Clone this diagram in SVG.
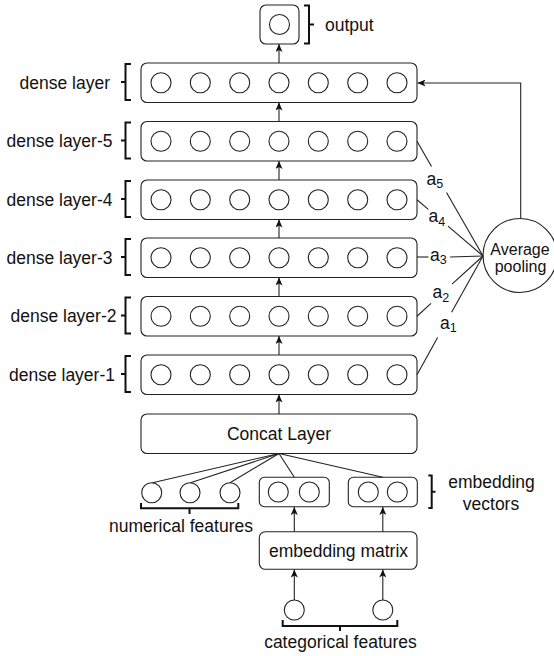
<svg xmlns="http://www.w3.org/2000/svg" width="554" height="656" viewBox="0 0 554 656">
<style>
.box{fill:#fff;stroke:#222;stroke-width:1.1}
.c{fill:#fff;stroke:#222;stroke-width:1.1}
.ln{fill:none;stroke:#222;stroke-width:1.1}
.ar{fill:none;stroke:#222;stroke-width:1.1;marker-end:url(#ah)}
.br{fill:none;stroke:#111;stroke-width:2}
.t{font-family:"Liberation Sans",Arial,sans-serif;font-size:17.5px;fill:#111}
.sub{font-size:12.5px}
</style>
<defs>
<marker id="ah" markerUnits="userSpaceOnUse" markerWidth="8" markerHeight="7" refX="8" refY="3.5" orient="auto">
<path d="M0,0 L8,3.5 L0,7 L2,3.5 z" fill="#111"/>
</marker>
<g id="row">
<rect class="box" x="141" y="0" width="276" height="39.5" rx="6"/>
<circle class="c" cx="161" cy="19.75" r="10"/>
<circle class="c" cx="200.3" cy="19.75" r="10"/>
<circle class="c" cx="239.7" cy="19.75" r="10"/>
<circle class="c" cx="279" cy="19.75" r="10"/>
<circle class="c" cx="318.3" cy="19.75" r="10"/>
<circle class="c" cx="357.7" cy="19.75" r="10"/>
<circle class="c" cx="397" cy="19.75" r="10"/>
</g>
<path id="lbr" d="M131,1 L125.5,1 L125.5,37 L131,37 M125.5,19 L121,19"/>
</defs>

<g id="output">
<rect class="box" x="260" y="5" width="39" height="39" rx="6"/>
<circle class="c" cx="279.5" cy="24.5" r="10"/>
<path class="br" d="M304,5.5 L309,5.5 L309,43.5 L304,43.5 M309,24.5 L314,24.5"/>
<text class="t" x="325" y="30.5">output</text>
</g>

<g id="dense-layer">
<use href="#row" x="0" y="63"/>
<use href="#lbr" class="br" x="0" y="63"/>
<text class="t" x="110" y="88.75" text-anchor="end">dense layer</text>
</g>
<g id="dense-layer-5">
<use href="#row" x="0" y="121.5"/>
<use href="#lbr" class="br" x="0" y="121.5"/>
<text class="t" x="112.5" y="147.25" text-anchor="end">dense layer-5</text>
</g>
<g id="dense-layer-4">
<use href="#row" x="0" y="180"/>
<use href="#lbr" class="br" x="0" y="180"/>
<text class="t" x="112.5" y="205.75" text-anchor="end">dense layer-4</text>
</g>
<g id="dense-layer-3">
<use href="#row" x="0" y="238"/>
<use href="#lbr" class="br" x="0" y="238"/>
<text class="t" x="112.5" y="263.75" text-anchor="end">dense layer-3</text>
</g>
<g id="dense-layer-2">
<use href="#row" x="0" y="296.5"/>
<use href="#lbr" class="br" x="0" y="296.5"/>
<text class="t" x="116.5" y="322.25" text-anchor="end">dense layer-2</text>
</g>
<g id="dense-layer-1">
<use href="#row" x="0" y="355"/>
<use href="#lbr" class="br" x="0" y="355"/>
<text class="t" x="115" y="380.75" text-anchor="end">dense layer-1</text>
</g>

<g id="concat">
<rect class="box" x="141" y="414" width="276" height="39.5" rx="6"/>
<text class="t" x="279" y="440" text-anchor="middle">Concat Layer</text>
</g>

<g id="avg-pooling">
<circle class="c" cx="520" cy="255.5" r="37"/>
<text class="t" x="520" y="255" text-anchor="middle" style="font-size:16px">Average</text>
<text class="t" x="520.5" y="272" text-anchor="middle" style="font-size:16px">pooling</text>
</g>

<g id="numerical">
<circle class="c" cx="151.7" cy="492.7" r="10"/>
<circle class="c" cx="190" cy="492.7" r="10"/>
<circle class="c" cx="230" cy="492.7" r="10"/>
<path class="br" d="M141,503 L141,508.3 L238.3,508.3 L238.3,503 M189.5,508.3 L189.5,514"/>
<text class="t" x="181" y="532" text-anchor="middle">numerical features</text>
</g>

<g id="emb-vec-1">
<rect class="box" x="259.3" y="477.3" width="70" height="29.4" rx="5"/>
<circle class="c" cx="278.3" cy="492" r="10"/>
<circle class="c" cx="309.3" cy="492" r="10"/>
</g>
<g id="emb-vec-2">
<rect class="box" x="348.3" y="477.3" width="69" height="29.4" rx="5"/>
<circle class="c" cx="368.3" cy="492" r="10"/>
<circle class="c" cx="397.3" cy="492" r="10"/>
</g>
<g id="emb-label">
<path class="br" d="M428.3,475.5 L431.7,475.5 L431.7,508 L428.3,508 M431.7,491.7 L435.5,491.7"/>
<text class="t" x="491.5" y="488" text-anchor="middle">embedding</text>
<text class="t" x="491" y="510" text-anchor="middle">vectors</text>
</g>

<g id="emb-matrix">
<rect class="box" x="259.3" y="531.7" width="157.7" height="37.6" rx="6"/>
<text class="t" x="338.5" y="557" text-anchor="middle">embedding matrix</text>
</g>

<g id="categorical">
<circle class="c" cx="294.3" cy="610" r="10"/>
<circle class="c" cx="382.8" cy="610" r="10"/>
<path class="br" d="M282.7,620 L282.7,626 L397.3,626 L397.3,620 M340,626 L340,631"/>
<text class="t" x="340.5" y="648.3" text-anchor="middle">categorical features</text>
</g>

<g id="connectors">
<line class="ar" x1="279" y1="63" x2="279" y2="44"/>
<line class="ar" x1="279" y1="121.5" x2="279" y2="102.5"/>
<line class="ar" x1="279" y1="180" x2="279" y2="161"/>
<line class="ar" x1="279" y1="238" x2="279" y2="219.5"/>
<line class="ar" x1="279" y1="296.5" x2="279" y2="277.5"/>
<line class="ar" x1="279" y1="355" x2="279" y2="336"/>
<line class="ar" x1="279" y1="414" x2="279" y2="394.5"/>
<polyline class="ar" points="520.7,218.5 520.7,83 417.5,83"/>
<line class="ln" x1="417" y1="141.25" x2="431.5" y2="166.5"/>
<line class="ln" x1="446.5" y1="192.5" x2="483" y2="256"/>
<line class="ln" x1="417" y1="199.75" x2="428.3" y2="209.4"/>
<line class="ln" x1="448" y1="226.2" x2="483" y2="256"/>
<line class="ln" x1="417" y1="257" x2="428.5" y2="257"/>
<line class="ln" x1="450" y1="257" x2="483" y2="256"/>
<line class="ln" x1="417" y1="316.25" x2="431" y2="303.4"/>
<line class="ln" x1="452" y1="284.2" x2="483" y2="256"/>
<line class="ln" x1="417" y1="374.75" x2="437.6" y2="337.6"/>
<line class="ln" x1="451.6" y1="312.3" x2="483" y2="256"/>
<line class="ln" x1="279" y1="453.5" x2="152.5" y2="482.7"/>
<line class="ln" x1="279" y1="453.5" x2="190.5" y2="482.7"/>
<line class="ln" x1="279" y1="453.5" x2="230" y2="482.7"/>
<line class="ln" x1="279" y1="453.5" x2="294.3" y2="477.3"/>
<line class="ln" x1="279" y1="453.5" x2="382.8" y2="477.3"/>
<line class="ar" x1="294.3" y1="531.7" x2="294.3" y2="507"/>
<line class="ar" x1="382.8" y1="531.7" x2="382.8" y2="507"/>
<line class="ar" x1="294.3" y1="600" x2="294.3" y2="569.5"/>
<line class="ar" x1="382.8" y1="600" x2="382.8" y2="569.5"/>
</g>

<g id="weights">
<text class="t" x="426.5" y="184.5">a<tspan class="sub" dy="3.5">5</tspan></text>
<text class="t" x="428.5" y="222">a<tspan class="sub" dy="3.5">4</tspan></text>
<text class="t" x="430" y="260.7">a<tspan class="sub" dy="3.5">3</tspan></text>
<text class="t" x="432.5" y="298">a<tspan class="sub" dy="3.5">2</tspan></text>
<text class="t" x="440" y="328.5">a<tspan class="sub" dy="3.5">1</tspan></text>
</g>
</svg>
